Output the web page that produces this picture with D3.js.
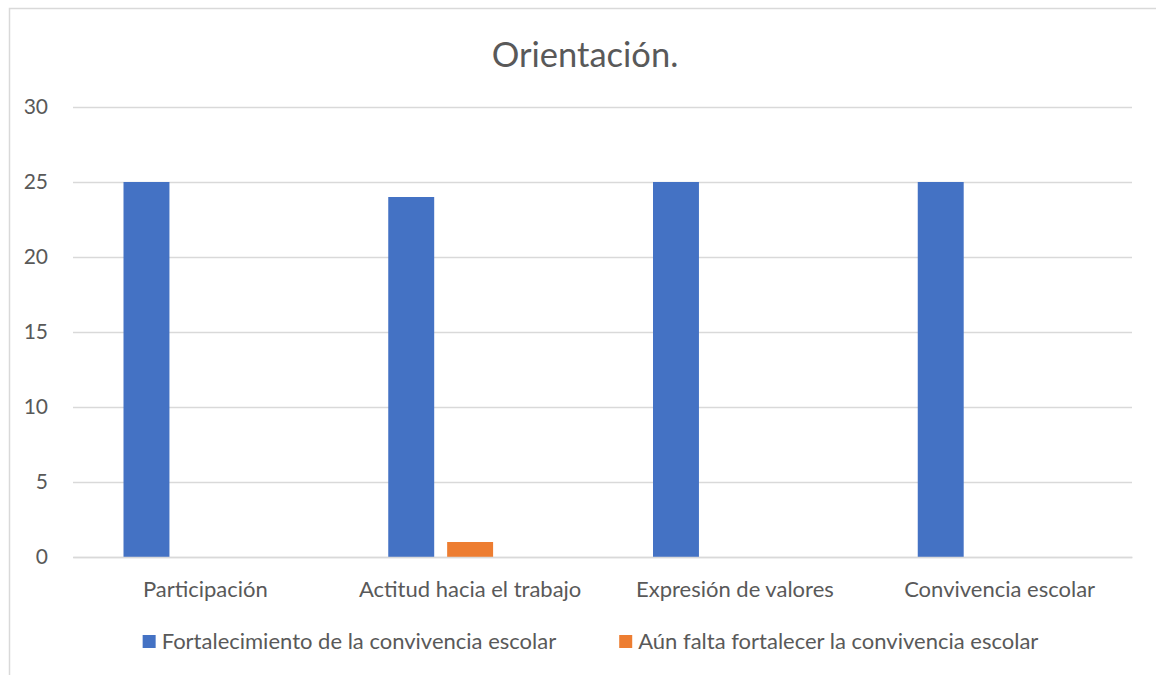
<!DOCTYPE html>
<html>
<head>
<meta charset="utf-8">
<script src="https://cdnjs.cloudflare.com/ajax/libs/d3/7.8.5/d3.min.js"></script>
<style>
  body { margin: 0; background: #fff; }
  text { font-family: Lato, "Open Sans", sans-serif; fill: #595959; }
</style>
</head>
<body>
<svg id="chart" width="1156" height="675"></svg>
<script>
var categories = ["Participación", "Actitud hacia el trabajo", "Expresión de valores", "Convivencia escolar"];
var seriesNames = ["Fortalecimiento de la convivencia escolar", "Aún falta fortalecer la convivencia escolar"];
var fortalecimiento = [25, 24, 25, 25];
var aunFalta = [0, 1, 0, 0];
var yTicks = [0, 5, 10, 15, 20, 25, 30];
var colors = ["#4472c4", "#ed7d31"];

var svg = d3.select("#chart"),
    margin = {top: 107, right: 24, bottom: 118, left: 73},
    width = +svg.attr("width") - margin.left - margin.right,
    height = +svg.attr("height") - margin.top - margin.bottom;

// chart frame (only top and left edges visible in the picture)
svg.append("path")
    .attr("d", "M9.5,675 V8.5 H1156")
    .attr("fill", "none")
    .attr("stroke", "#d9d9d9")
    .attr("stroke-width", 1.5);

svg.append("text")
    .attr("x", 585)
    .attr("y", 67)
    .attr("text-anchor", "middle")
    .style("font-size", "34.5px")
    .text("Orientación.");

var x0 = d3.scaleBand().domain(categories).range([0, width]);
// three slots per category, the third one stays empty
var x1 = d3.scaleBand().domain([0, 1, 2]).range([50.5, x0.bandwidth() - 50.5]).paddingInner(0.22);
var y = d3.scaleLinear().domain([0, 30]).range([height, 0]);

var g = svg.append("g")
    .attr("transform", "translate(" + margin.left + "," + margin.top + ")");

g.append("g")
    .attr("class", "grid")
    .call(d3.axisLeft(y).tickValues(yTicks).tickSize(-width).tickFormat(""))
    .call(function(s) { s.select(".domain").remove(); })
    .selectAll("line")
    .attr("stroke", "#d9d9d9")
    .attr("stroke-width", 1.5);

g.append("g")
    .call(d3.axisLeft(y).tickValues(yTicks).tickSize(0).tickPadding(25))
    .call(function(s) { s.select(".domain").remove(); })
    .selectAll("text")
    .style("font-size", "21px")
    .style("fill", "#595959");

var series = [fortalecimiento, aunFalta];
series.forEach(function(vals, si) {
    g.selectAll(".bar" + si)
        .data(vals)
        .enter().append("rect")
        .attr("class", "bar" + si)
        .attr("x", function(d, i) { return x0(categories[i]) + x1(si); })
        .attr("width", x1.bandwidth())
        .attr("y", function(d) { return y(d); })
        .attr("height", function(d) { return height - y(d); })
        .attr("fill", colors[si]);
});

g.append("g")
    .attr("transform", "translate(0," + height + ")")
    .call(d3.axisBottom(x0).tickSize(0).tickPadding(24))
    .call(function(s) {
        s.select(".domain").attr("stroke", "#d9d9d9").attr("stroke-width", 1.5);
    })
    .selectAll("text")
    .style("font-size", "22px")
    .style("fill", "#595959");

// legend
var legend = svg.append("g");
var items = legend.selectAll("g")
    .data(seriesNames)
    .enter().append("g");
items.append("rect")
    .attr("width", 13).attr("height", 13)
    .attr("y", -14)
    .attr("fill", function(d, i) { return colors[i]; });
items.append("text")
    .attr("x", 19)
    .attr("y", 0)
    .style("font-size", "22px")
    .text(function(d) { return d; });

var xPos = 0;
items.each(function() {
    var w = this.getBBox().width;
    d3.select(this).attr("transform", "translate(" + xPos + ",0)");
    xPos += w + 63;
});
var total = xPos - 63;
legend.attr("transform", "translate(" + (590.5 - total / 2) + ",649)");
</script>
</body>
</html>
